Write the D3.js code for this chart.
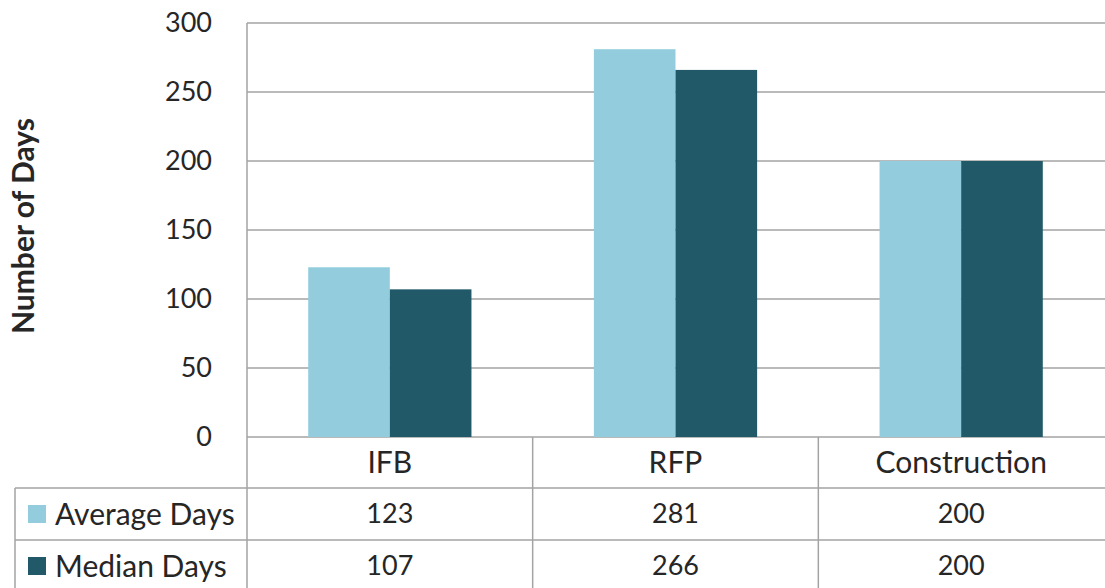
<!DOCTYPE html>
<html>
<head>
<meta charset="utf-8">
<script src="https://cdn.jsdelivr.net/npm/d3@7"></script>
<style>
  html, body { margin: 0; padding: 0; background: #fff; }
  svg { display: block; }
  text { font-family: Lato, "Open Sans", sans-serif; fill: #262626; }
</style>
</head>
<body>
<svg id="chart" width="1105" height="588"></svg>
<script>
// Procurement cycle durations by contract type
const categories = ["IFB", "RFP", "Construction"];
const seriesNames = ["Average Days", "Median Days"];
const averageDays = [123, 281, 200];
const medianDays = [107, 266, 200];
const yTicks = [0, 50, 100, 150, 200, 250, 300];

const seriesValues = [averageDays, medianDays];
const colors = ["#93CDDD", "#215968"];
const lineColor = "#A3A3A3";
const wordSize = 30;   // labels made of letters
const numberSize = 27; // numeric labels

const svg = d3.select("#chart");
const W = 1105, H = 588;

const plot = { left: 247, right: 1104, top: 23, bottom: 437 };
const rowH = [51, 52, 52]; // category row, then one row per series
const tableLeft = 15;

const x = d3.scaleBand().domain(categories).range([plot.left, plot.right]).padding(0);
const x1 = d3.scaleBand().domain(seriesNames).range([0, x.bandwidth()])
  .paddingInner(0).paddingOuter(0.75);
const y = d3.scaleLinear().domain([0, 300]).range([plot.bottom, plot.top]);

// Horizontal gridlines
svg.append("g")
  .selectAll("line")
  .data(yTicks)
  .join("line")
  .attr("x1", plot.left).attr("x2", W)
  .attr("y1", d => y(d)).attr("y2", d => y(d))
  .attr("stroke", lineColor).attr("stroke-width", 1.5);

// Bars
const groups = svg.append("g")
  .selectAll("g")
  .data(seriesNames)
  .join("g")
  .attr("fill", (d, i) => colors[i]);

groups.selectAll("rect")
  .data((s, si) => categories.map((c, ci) => ({ c, s, v: seriesValues[si][ci] })))
  .join("rect")
  .attr("x", d => x(d.c) + x1(d.s))
  .attr("width", x1.bandwidth())
  .attr("y", d => y(d.v))
  .attr("height", d => y(0) - y(d.v));

// Y axis labels
const yAxis = d3.axisLeft(y).tickValues(yTicks).tickSize(0).tickPadding(35);
const ga = svg.append("g").attr("transform", `translate(${plot.left},0)`).call(yAxis);
ga.select(".domain").remove();
ga.selectAll("text")
  .attr("font-size", numberSize)
  .attr("font-family", "Lato, 'Open Sans', sans-serif")
  .attr("fill", "#262626");

// Axis title
svg.append("text")
  .attr("transform", `translate(34,226) rotate(-90)`)
  .attr("text-anchor", "middle")
  .attr("font-size", 30)
  .attr("font-weight", "bold")
  .attr("fill", "#000")
  .text("Number of Days");

// Data table
const rowTop = [plot.bottom, plot.bottom + rowH[0], plot.bottom + rowH[0] + rowH[1]];
const rowBottom = rowTop.map((t, i) => t + rowH[i]);
const table = svg.append("g");

// Vertical rules: the axis line, then the band boundaries
table.append("line")
  .attr("x1", plot.left).attr("x2", plot.left)
  .attr("y1", plot.top).attr("y2", H)
  .attr("stroke", lineColor).attr("stroke-width", 1.5);
table.selectAll("line.sep")
  .data(categories.slice(1))
  .join("line")
  .attr("class", "sep")
  .attr("x1", d => x(d)).attr("x2", d => x(d))
  .attr("y1", plot.bottom).attr("y2", H)
  .attr("stroke", lineColor).attr("stroke-width", 1.5);
table.append("line")
  .attr("x1", tableLeft).attr("x2", tableLeft)
  .attr("y1", rowTop[1]).attr("y2", H)
  .attr("stroke", lineColor).attr("stroke-width", 1.5);

// Horizontal rules under the category row and between series rows
table.selectAll("line.row")
  .data([rowTop[1], rowTop[2]])
  .join("line")
  .attr("class", "row")
  .attr("x1", tableLeft).attr("x2", W)
  .attr("y1", d => d).attr("y2", d => d)
  .attr("stroke", lineColor).attr("stroke-width", 1.5);

// Category labels
table.selectAll("text.cat")
  .data(categories)
  .join("text")
  .attr("class", "cat")
  .attr("x", d => x(d) + x.bandwidth() / 2)
  .attr("y", (rowTop[0] + rowBottom[0]) / 2)
  .attr("dy", "0.35em")
  .attr("text-anchor", "middle")
  .attr("font-size", wordSize)
  .text(d => d);

// Series rows: legend key, name and values
seriesNames.forEach((name, si) => {
  const cy = (rowTop[si + 1] + rowBottom[si + 1]) / 2;
  table.append("rect")
    .attr("x", 28).attr("y", cy - 9)
    .attr("width", 18).attr("height", 18)
    .attr("fill", colors[si]);
  table.append("text")
    .attr("x", 55).attr("y", cy).attr("dy", "0.35em")
    .attr("font-size", wordSize)
    .text(name);
  table.selectAll(null)
    .data(categories)
    .join("text")
    .attr("x", d => x(d) + x.bandwidth() / 2)
    .attr("y", cy).attr("dy", "0.35em")
    .attr("text-anchor", "middle")
    .attr("font-size", numberSize)
    .text((d, ci) => seriesValues[si][ci]);
});
</script>
</body>
</html>
